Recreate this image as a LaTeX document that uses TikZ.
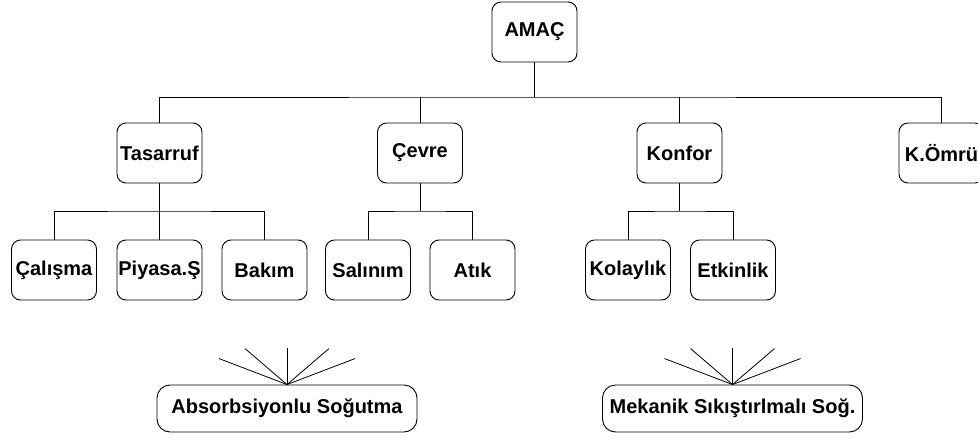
\documentclass[tikz,border=0pt]{standalone}
\usepackage{fontspec}
\setmainfont{Liberation Sans}
\begin{document}
\begin{tikzpicture}[x=1pt,y=-1pt,
  line width=0.9pt,
  box/.style={draw, rounded corners=9pt, minimum width=85pt, minimum height=60pt,
    inner sep=0pt, font=\fontsize{20}{22}\selectfont\bfseries},
  widebox/.style={draw, rounded corners=13pt, minimum width=260pt, minimum height=47pt,
    inner sep=0pt, font=\fontsize{20}{22}\selectfont\bfseries},
  ray/.style={line width=0.8pt}]
\useasboundingbox (0,0) rectangle (978,437);

% top level
\node[box] (amac) at (534.5,32) {AMAÇ};

% second level
\node[box] (tas) at (159.5,153) {Tasarruf};
\node[box] (cev) at (420,153) {Çevre};
\node[box] (kon) at (679.5,153) {Konfor};
\node[box] (kom) at (941.5,153) {K.Ömrü};

% third level
\node[box] (cal) at (54,270) {Çalışma};
\node[box] (piy) at (159.5,270) {Piyasa.Ş};
\node[box] (bak) at (264.5,270) {Bakım};
\node[box] (sal) at (368,270) {Salınım};
\node[box] (ati) at (472.5,270) {Atık};
\node[box] (kol) at (628,270) {Kolaylık};
\node[box] (etk) at (733,270) {Etkinlik};

% alternatives
\node[widebox] (abs) at (287,408.5) {Absorbsiyonlu Soğutma};
\node[widebox] (mek) at (732.5,408.5) {Mekanik Sıkıştırlmalı Soğ.};

% bus lines
\coordinate (bus1) at (534.5,97);
\draw (amac.south) -- (bus1);
\draw (tas.north) |- (bus1) -| (kom.north);
\draw (cev.north) -- (cev.north |- bus1);
\draw (kon.north) -- (kon.north |- bus1);

\coordinate (bus2) at (159.5,211);
\draw (tas.south) -- (bus2);
\draw (cal.north) |- (bus2) -| (bak.north);
\draw (piy.north) -- (piy.north |- bus2);

\coordinate (bus3) at (420,211);
\draw (cev.south) -- (bus3);
\draw (sal.north) |- (bus3) -| (ati.north);

\coordinate (bus4) at (679.5,211);
\draw (kon.south) -- (bus4);
\draw (kol.north) |- (bus4) -| (etk.north);

% fans above the alternatives
\foreach \n in {abs,mek}{
  \foreach \dx/\dy in {-68/-26,-42/-36,0/-37,42/-36,68/-26}{
    \draw[ray] (\n.north) -- ++(\dx,\dy);
  }
}
\end{tikzpicture}
\end{document}
